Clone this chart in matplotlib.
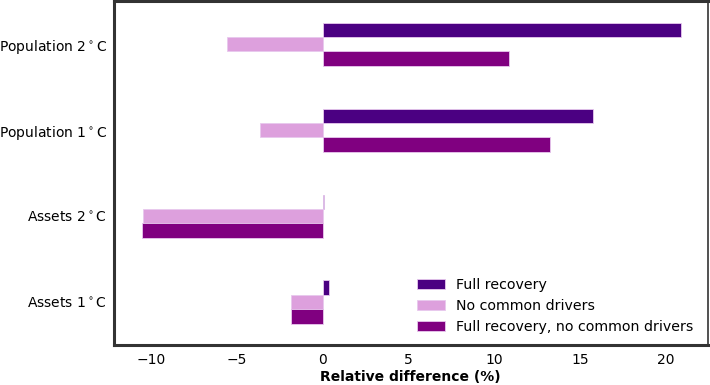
import numpy as np
import matplotlib
matplotlib.use("Agg")
from matplotlib import pyplot as plt

categories = ["Assets 1$^\\circ$C", "Assets 2$^\\circ$C",
              "Population 1$^\\circ$C", "Population 2$^\\circ$C"]
full_recovery = [0.37, 0.08, 15.75, 20.9]
no_common_drivers = [-1.86, -10.5, -3.69, -5.6]
full_recovery_no_common = [-1.88, -10.57, 13.25, 10.86]

series = [("Full recovery", full_recovery, "#4B0082"),
          ("No common drivers", no_common_drivers, "#DDA0DD"),
          ("Full recovery, no common drivers", full_recovery_no_common, "#800080")]

fig = plt.figure(figsize=(7.1, 3.85), dpi=100)
ax = fig.add_axes([0.1606, 0.104, 0.836, 0.893])

y = np.arange(len(categories))
h = 0.167
for i, (name, vals, col) in enumerate(series):
    ax.barh(y + h * (1 - i), vals, height=h, color=col, label=name,
            edgecolor="#E8C8EE", linewidth=0.6)

ax.set_yticks(y)
ax.set_yticklabels(categories, fontsize=10)
ax.set_xticks([-10, -5, 0, 5, 10, 15, 20])
ax.set_xticklabels(["\u221210", "\u22125", "0", "5", "10", "15", "20"], fontsize=10)
ax.tick_params(axis="x", length=0, pad=6)
ax.tick_params(axis="y", length=0, pad=5)
ax.set_xlim(-12.18, 22.44)
ax.set_ylim(-0.5, 3.5)
ax.set_xlabel("Relative difference (%)", fontweight="bold", fontsize=10, labelpad=2)

for side in ["left", "top", "bottom"]:
    ax.spines[side].set_linewidth(2.2)
    ax.spines[side].set_color("#333333")
ax.spines["right"].set_linewidth(1.2)
ax.spines["right"].set_color("#333333")

ax.legend(loc="lower right", frameon=False, fontsize=10.2, bbox_to_anchor=(0.998, -0.005))

fig.savefig("out.png", dpi=100)
